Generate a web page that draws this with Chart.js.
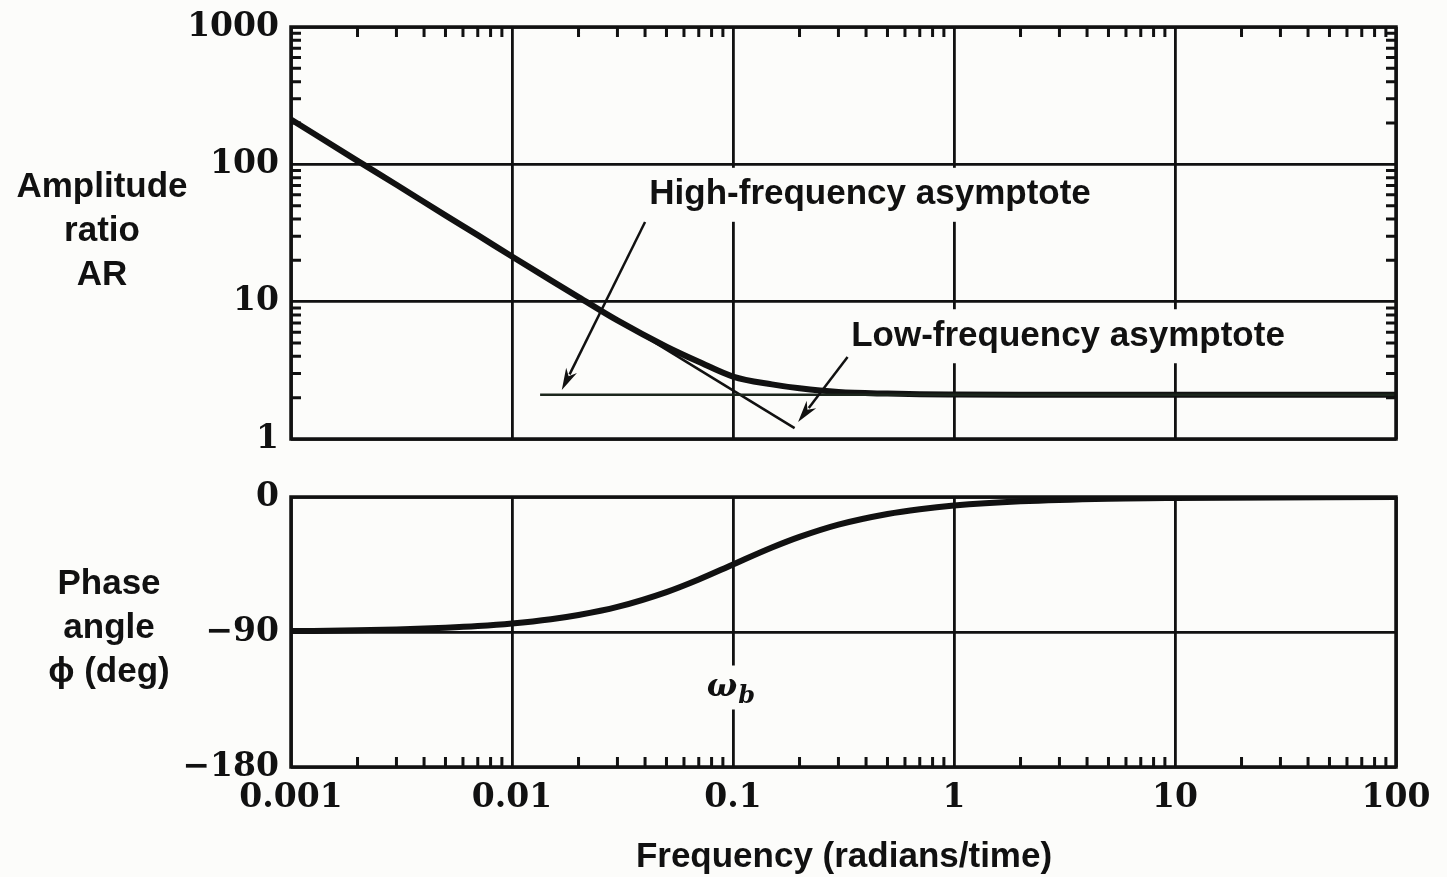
<!DOCTYPE html>
<html>
<head>
<meta charset="utf-8">
<script src="https://cdn.jsdelivr.net/npm/chart.js@4"></script>
<style>
    html, body { margin: 0; padding: 0; background: #fcfcfa; }
    #page { position: relative; width: 1447px; height: 877px; overflow: hidden; background: #fcfcfa;
            font-family: "Liberation Sans", Arial, sans-serif; font-weight: bold; color: #111; }
    canvas { position: absolute; left: 0; }
    #arChart { top: 0; }
    #phChart { top: 465px; }
    .lab { position: absolute; text-align: center; font-size: 35px; line-height: 44px; white-space: nowrap; }
</style>
</head>
<body>
<div id="page">
    <canvas id="arChart" width="1447" height="465"></canvas>
    <canvas id="phChart" width="1447" height="412"></canvas>
    <div class="lab" style="left:2px; top:163px; width:200px;">Amplitude<br>ratio<br>AR</div>
    <div class="lab" style="left:9px; top:560px; width:200px;">Phase<br>angle<br>ϕ (deg)</div>
    <div class="lab" style="left:544px; top:833px; width:600px;">Frequency (radians/time)</div>
</div>
<script>
// axis ticks
const freqDecades = [0.001, 0.01, 0.1, 1, 10, 100];
const freqLabels = ['0.001', '0.01', '0.1', '1', '10', '100'];
const arDecades = [1, 10, 100, 1000];
const arLabels = ['1', '10', '100', '1000'];
const phaseTicks = [-180, -90, 0];
const phaseLabels = ['\u2212180', '\u221290', '0'];
const minorSteps = [2, 3, 4, 5, 6, 7, 8, 9];

// curves
const freq = [0.001, 0.002, 0.003, 0.005, 0.007, 0.01, 0.015, 0.02, 0.03, 0.05, 0.07, 0.1, 0.15, 0.2, 0.3, 0.5, 0.7, 1, 2, 5, 10, 100];
const ampRatio = [212, 106, 71, 42.5, 30.5, 21.3, 14.3, 10.8, 7.3, 4.7, 3.65, 2.85, 2.5, 2.34, 2.2, 2.14, 2.12, 2.11, 2.1, 2.1, 2.1, 2.1];
const phaseDeg = [-89.4, -88.9, -88.3, -87.1, -86.0, -84.3, -81.5, -78.7, -73.3, -63.4, -55.0, -45.0, -33.7, -26.6, -18.4, -11.3, -8.1, -5.7, -2.9, -1.1, -0.6, 0];

// asymptotes
const flatAsymFreq = [0.0134, 100];
const flatAsymAR = [2.1, 2.1];
const slopeAsymFreq = [0.03, 0.19];
const slopeAsymAR = [7.4, 1.2];

const INK = '#111';
const BG = '#fcfcfa';
const tickFont = { family: 'DejaVu Serif', size: 33, weight: 'bold' };

const pts = (xs, ys) => xs.map((x, i) => ({ x, y: ys[i] }));

// frame + small inside ticks
const framePlugin = {
    id: 'frame',
    afterDraw(chart, args, opts) {
        const { ctx, chartArea: a, scales } = chart;
        const len = 10;
        ctx.save();
        ctx.strokeStyle = INK;
        ctx.lineWidth = 3;
        ctx.beginPath();
        const sides = opts.sides || [];
        if (sides.includes('top') || sides.includes('bottom')) {
            freqDecades.slice(0, -1).forEach(d => minorSteps.forEach(s => {
                const px = scales.x.getPixelForValue(d * s);
                if (sides.includes('top')) { ctx.moveTo(px, a.top); ctx.lineTo(px, a.top + len); }
                if (sides.includes('bottom')) { ctx.moveTo(px, a.bottom); ctx.lineTo(px, a.bottom - len); }
            }));
        }
        if (sides.includes('left') || sides.includes('right')) {
            arDecades.slice(0, -1).forEach(d => minorSteps.forEach(s => {
                const py = scales.y.getPixelForValue(d * s);
                if (sides.includes('left')) { ctx.moveTo(a.left, py); ctx.lineTo(a.left + len, py); }
                if (sides.includes('right')) { ctx.moveTo(a.right, py); ctx.lineTo(a.right - len, py); }
            }));
        }
        ctx.stroke();
        ctx.lineWidth = 3.5;
        ctx.strokeRect(a.left, a.top, a.right - a.left, a.bottom - a.top);
        ctx.restore();
    }
};

// text labels with a blank box behind, and arrows, placed in data units
const notePlugin = {
    id: 'notes',
    afterDatasetsDraw(chart, args, opts) {
        const { ctx, scales } = chart;
        ctx.save();
        (opts.labels || []).forEach(n => {
            const px = scales.x.getPixelForValue(n.x);
            const py = scales.y.getPixelForValue(n.y);
            ctx.font = n.font;
            const w = ctx.measureText(n.text).width + (n.sub ? 22 : 0);
            ctx.fillStyle = BG;
            ctx.fillRect(px - w / 2 - 6, py - n.boxH / 2, w + 12, n.boxH);
            ctx.fillStyle = INK;
            ctx.textBaseline = 'middle';
            ctx.textAlign = 'left';
            ctx.fillText(n.text, px - w / 2, py);
            if (n.sub) {
                const tw = ctx.measureText(n.text).width;
                ctx.font = n.subFont;
                ctx.fillText(n.sub, px - w / 2 + tw + 1, py + 9);
            }
        });
        (opts.arrows || []).forEach(ar => {
            const x0 = scales.x.getPixelForValue(ar.from[0]);
            const y0 = scales.y.getPixelForValue(ar.from[1]);
            const x1 = scales.x.getPixelForValue(ar.to[0]);
            const y1 = scales.y.getPixelForValue(ar.to[1]);
            const ang = Math.atan2(y1 - y0, x1 - x0);
            const head = 22, half = 6;
            ctx.strokeStyle = INK;
            ctx.lineWidth = 2.5;
            ctx.beginPath();
            ctx.moveTo(x0, y0);
            ctx.lineTo(x1 - Math.cos(ang) * head * 0.8, y1 - Math.sin(ang) * head * 0.8);
            ctx.stroke();
            ctx.fillStyle = INK;
            ctx.beginPath();
            ctx.moveTo(x1, y1);
            ctx.lineTo(x1 - Math.cos(ang) * head - Math.sin(ang) * half, y1 - Math.sin(ang) * head + Math.cos(ang) * half);
            ctx.lineTo(x1 - Math.cos(ang) * head * 0.7, y1 - Math.sin(ang) * head * 0.7);
            ctx.lineTo(x1 - Math.cos(ang) * head + Math.sin(ang) * half, y1 - Math.sin(ang) * head - Math.cos(ang) * half);
            ctx.closePath();
            ctx.fill();
        });
        ctx.restore();
    }
};

const grid = { color: INK, lineWidth: 2.8, drawTicks: false };

const xAxis = (showLabels) => ({
    type: 'logarithmic',
    min: 0.001,
    max: 100,
    afterBuildTicks: s => { s.ticks = freqDecades.map(v => ({ value: v })); },
    ticks: {
        display: showLabels,
        autoSkip: false,
        maxRotation: 0,
        color: INK,
        font: tickFont,
        padding: 12,
        callback: (v, i) => freqLabels[i]
    },
    grid: grid,
    border: { display: false },
    afterFit: s => { s.height = showLabels ? 60 : 0; s.paddingLeft = 0; s.paddingRight = 0; }
});

const yFit = s => { s.width = 291; s.paddingTop = 0; s.paddingBottom = 0; };

const common = {
    responsive: false,
    animation: false,
    events: [],
    elements: { point: { radius: 0 } }
};

new Chart(document.getElementById('arChart'), {
    type: 'line',
    data: {
        datasets: [
            { data: pts(flatAsymFreq, flatAsymAR), borderColor: '#1c261c', borderWidth: 2.5 },
            { data: pts(slopeAsymFreq, slopeAsymAR), borderColor: INK, borderWidth: 2.5 },
            { data: pts(freq, ampRatio), borderColor: INK, borderWidth: 6, cubicInterpolationMode: 'monotone' }
        ]
    },
    options: {
        ...common,
        layout: { padding: { left: 0, right: 51, top: 27, bottom: 26 } },
        scales: {
            x: xAxis(false),
            y: {
                type: 'logarithmic',
                min: 1,
                max: 1000,
                afterBuildTicks: s => { s.ticks = arDecades.map(v => ({ value: v })); },
                ticks: { autoSkip: false, color: INK, font: tickFont, padding: 12, callback: (v, i) => arLabels[i] },
                grid: grid,
                border: { display: false },
                afterFit: yFit
            }
        },
        plugins: {
            legend: { display: false },
            tooltip: { enabled: false },
            frame: { sides: ['top', 'left', 'right'] },
            notes: {
                labels: [
                    { text: 'High-frequency asymptote', x: 0.417, y: 60, font: 'bold 35px "Liberation Sans", Arial, sans-serif', boxH: 54 },
                    { text: 'Low-frequency asymptote', x: 3.28, y: 5.6, font: 'bold 35px "Liberation Sans", Arial, sans-serif', boxH: 54 }
                ],
                arrows: [
                    { from: [0.04, 38], to: [0.0168, 2.27] },
                    { from: [0.33, 3.95], to: [0.197, 1.33] }
                ]
            }
        }
    },
    plugins: [notePlugin, framePlugin]
});

new Chart(document.getElementById('phChart'), {
    type: 'line',
    data: {
        datasets: [
            { data: pts(freq, phaseDeg), borderColor: INK, borderWidth: 6, cubicInterpolationMode: 'monotone' }
        ]
    },
    options: {
        ...common,
        layout: { padding: { left: 0, right: 51, top: 32, bottom: 50 } },
        scales: {
            x: xAxis(true),
            y: {
                type: 'linear',
                min: -180,
                max: 0,
                afterBuildTicks: s => { s.ticks = phaseTicks.map(v => ({ value: v })); },
                ticks: { autoSkip: false, color: INK, font: tickFont, padding: 12, callback: (v, i) => phaseLabels[i] },
                grid: grid,
                border: { display: false },
                afterFit: yFit
            }
        },
        plugins: {
            legend: { display: false },
            tooltip: { enabled: false },
            frame: { sides: ['bottom'] },
            notes: {
                labels: [
                    { text: 'ω', sub: 'b', x: 0.1, y: -127, font: 'italic bold 32px "DejaVu Serif", serif', subFont: 'italic bold 24px "DejaVu Serif", serif', boxH: 44 }
                ]
            }
        }
    },
    plugins: [notePlugin, framePlugin]
});
</script>
</body>
</html>
